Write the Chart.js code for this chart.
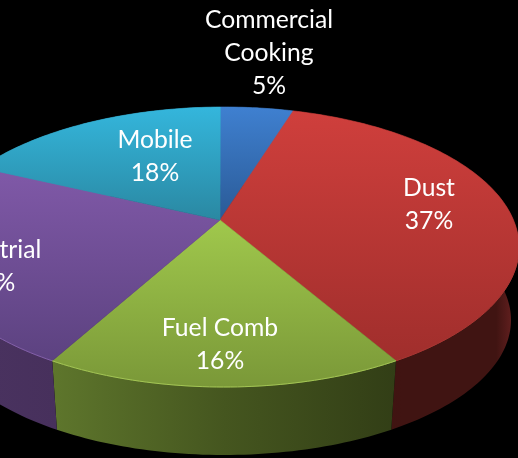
<!DOCTYPE html>
<html>
<head>
<meta charset="utf-8">
<title>Emissions by source</title>
<script src="https://cdn.jsdelivr.net/npm/chart.js@4"></script>
<style>
    html, body { margin: 0; padding: 0; background: #000; overflow: hidden; }
    canvas { display: block; }
</style>
</head>
<body>
<canvas id="pie-chart" width="518" height="458"></canvas>
<script>
// chart data, estimated to a bit more than the rounded labels show
const categories = ['Commercial Cooking', 'Dust', 'Fuel Comb', 'Industrial', 'Mobile'];
const shareValues = [4.8, 36.8, 16.45, 23.95, 18];

// slice colours: face top, face bottom, then side left, middle, right
const faceTop = ['#3f80d0', '#cf3f3c', '#a0c84c', '#8059a8', '#34b6dc'];
const faceBottom = ['#2a5a96', '#a02e2c', '#7a9838', '#5c4280', '#2a88a2'];
const sideLeft = ['#2a5a96', '#43130f', '#5e762c', '#4e3668', '#2a88a2'];
const sideMiddle = ['#2a5a96', '#401412', '#45561f', '#49325f', '#2a88a2'];
const sideRight = ['#2a5a96', '#702424', '#323e16', '#47305c', '#2a88a2'];
const rimColors = ['#5a96dc', '#aa3733', '#a4c655', '#8460aa', '#4ac0e0'];

// label layout, one entry per text line: [text, centre x, baseline y]
const labelLines = [
    ['Commercial', 269, 28], ['Cooking', 269, 61], ['5%', 269, 94],
    ['Dust', 429, 196], ['37%', 429, 229],
    ['Fuel Comb', 220, 336], ['16%', 220, 369],
    ['Industrial', -9, 258], ['24%', -9, 291],
    ['Mobile', 155, 148], ['18%', 155, 181]
];

// the pie's top face and its bottom edge on the page, the apex sits off centre (perspective)
const topEllipse = { x: 224, y: 247, rx: 295, ry: 140 };
const bottomEllipse = { x: 224, y: 320, rx: 287, ry: 135 };
const apex = { x: (220 - topEllipse.x) / topEllipse.rx, y: (220 - topEllipse.y) / topEllipse.ry };

// projective map of the unit disc onto itself, moves the centre to the apex
function tilt(vx, vy) {
    const len2 = apex.x * apex.x + apex.y * apex.y;
    const dot = apex.x * vx + apex.y * vy;
    const s = Math.sqrt(1 - len2);
    const k = (1 - s) * dot / len2;
    const d = 1 + dot;
    return { x: (apex.x + s * vx + k * apex.x) / d, y: (apex.y + s * vy + k * apex.y) / d };
}

function project(angle, ellipse) {
    const p = tilt(Math.cos(angle), Math.sin(angle));
    return { x: ellipse.x + p.x * ellipse.rx, y: ellipse.y + p.y * ellipse.ry };
}

function arcPoints(start, end, ellipse) {
    const steps = Math.max(2, Math.ceil((end - start) / 0.02));
    const points = [];
    for (let i = 0; i <= steps; i++) {
        points.push(project(start + (end - start) * i / steps, ellipse));
    }
    return points;
}

const perspectivePie = {
    id: 'perspectivePie',
    // the library computes the slice angles, this only changes how they are painted
    beforeDatasetDraw(chart, args) {
        const ctx = chart.ctx;
        const arcs = args.meta.data;
        const centre = { x: topEllipse.x + apex.x * topEllipse.rx, y: topEllipse.y + apex.y * topEllipse.ry };

        // side wall
        arcs.forEach((arc, i) => {
            const top = arcPoints(arc.startAngle, arc.endAngle, topEllipse);
            const bottom = arcPoints(arc.startAngle, arc.endAngle, bottomEllipse).reverse();
            const xs = top.concat(bottom).map(p => p.x);
            const grad = ctx.createLinearGradient(Math.min(...xs), 0, Math.max(...xs), 0);
            grad.addColorStop(0, sideLeft[i]);
            grad.addColorStop(0.5, sideMiddle[i]);
            grad.addColorStop(i === 1 ? 0.9 : 1, i === 1 ? sideMiddle[i] : sideRight[i]);
            if (i === 1) grad.addColorStop(1, sideRight[i]);
            ctx.beginPath();
            top.concat(bottom).forEach((p, n) => n ? ctx.lineTo(p.x, p.y) : ctx.moveTo(p.x, p.y));
            ctx.closePath();
            ctx.fillStyle = grad;
            ctx.fill();
        });

        // top face
        arcs.forEach((arc, i) => {
            const rim = arcPoints(arc.startAngle, arc.endAngle, topEllipse);
            const ys = rim.map(p => p.y).concat(centre.y);
            const grad = ctx.createLinearGradient(0, Math.min(...ys), 0, Math.max(...ys));
            grad.addColorStop(0, faceTop[i]);
            grad.addColorStop(1, faceBottom[i]);
            ctx.beginPath();
            ctx.moveTo(centre.x, centre.y);
            rim.forEach(p => ctx.lineTo(p.x, p.y));
            ctx.closePath();
            ctx.fillStyle = grad;
            ctx.strokeStyle = grad;
            ctx.lineWidth = 0.6;
            ctx.fill();
            ctx.stroke();
        });

        // light edge where the face meets the wall
        arcs.forEach((arc, i) => {
            const rim = arcPoints(arc.startAngle, arc.endAngle, topEllipse).filter(p => p.y > topEllipse.y);
            if (!rim.length) return;
            ctx.beginPath();
            rim.forEach((p, n) => n ? ctx.lineTo(p.x, p.y) : ctx.moveTo(p.x, p.y));
            ctx.strokeStyle = rimColors[i];
            ctx.lineWidth = 1;
            ctx.stroke();
        });
        return false;
    },
    afterDraw(chart) {
        const ctx = chart.ctx;
        ctx.save();
        ctx.fillStyle = '#fff';
        ctx.font = '24.7px Lato';
        ctx.textAlign = 'center';
        ctx.textBaseline = 'alphabetic';
        labelLines.forEach(line => ctx.fillText(line[0], line[1], line[2]));
        ctx.restore();
    }
};

document.addEventListener('DOMContentLoaded', function() {
    const ctx = document.getElementById('pie-chart').getContext('2d');
    new Chart(ctx, {
        type: 'pie',
        data: {
            labels: categories,
            datasets: [{ data: shareValues, borderWidth: 0 }]
        },
        options: {
            responsive: false,
            animation: false,
            plugins: {
                legend: { display: false },
                tooltip: { enabled: false }
            }
        },
        plugins: [perspectivePie]
    });
});
</script>
</body>
</html>
